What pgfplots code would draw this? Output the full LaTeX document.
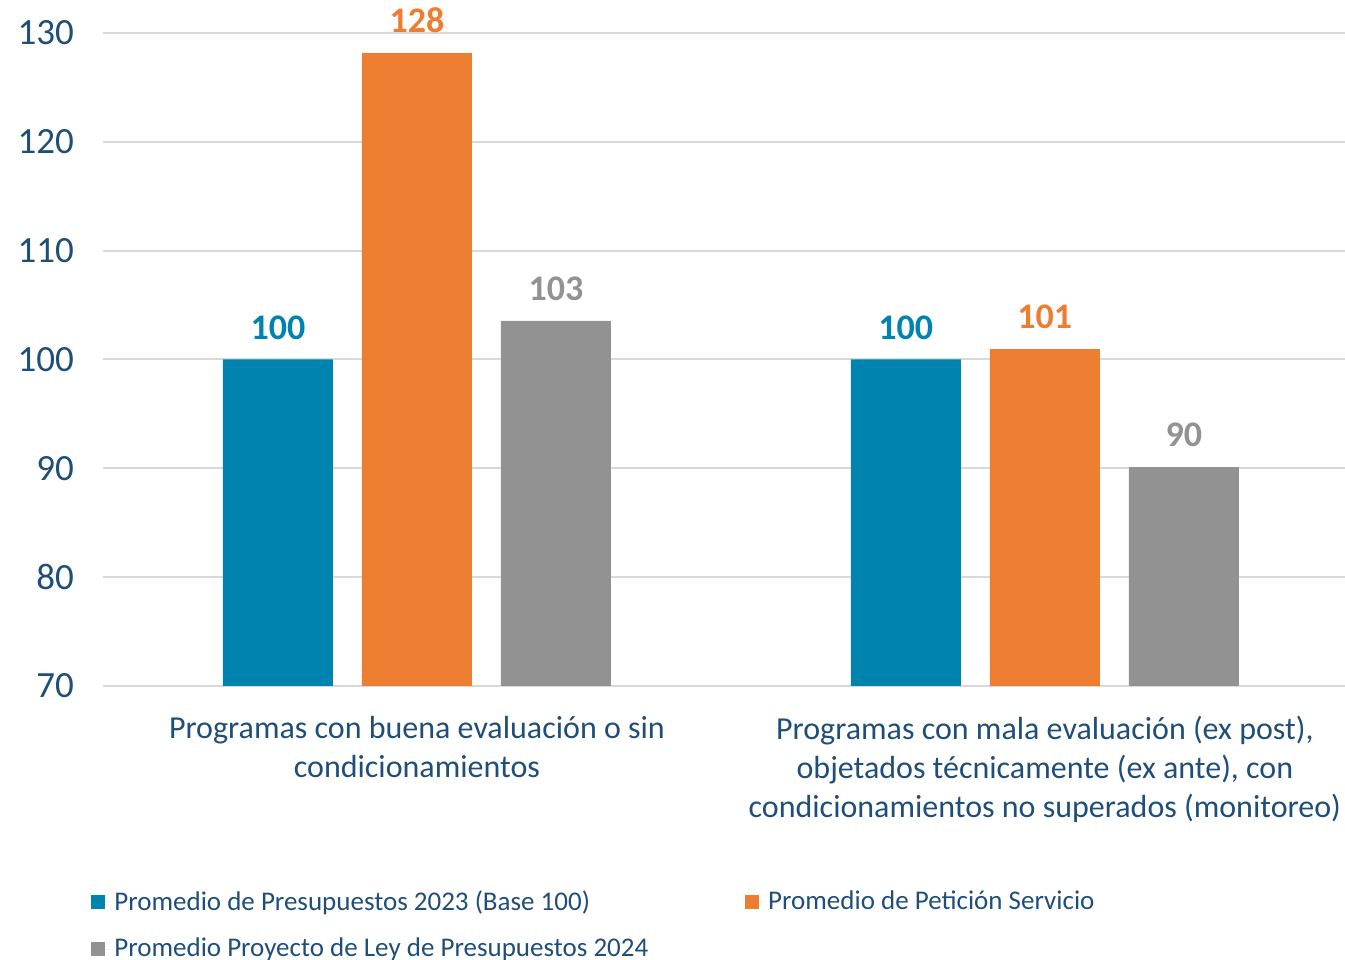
\documentclass[border=0pt]{standalone}
\usepackage{pgfplots}
\pgfplotsset{compat=1.18}
\usepackage{fontspec}
\setmainfont{Carlito}
\definecolor{cblue}{HTML}{0083AF}
\definecolor{corange}{HTML}{ED7D31}
\definecolor{cgray}{HTML}{929292}
\definecolor{ctext}{HTML}{1F4E79}
\definecolor{cgrid}{HTML}{D9D9D9}
\begin{document}
\begin{tikzpicture}
\begin{axis}[
  scale only axis, width=621pt, height=326.5pt,
  xmin=-0.5, xmax=1.478, ymin=70, ymax=130,
  ybar=14.5pt, bar width=55pt,
  clip=false,
  xtick={0,1},
  xticklabels={{Programas con buena evaluación o sin\\condicionamientos},{Programas con mala evaluación (ex post),\\objetados técnicamente (ex ante), con\\condicionamientos no superados (monitoreo)}},
  xticklabel style={align=center, font=\fontsize{16}{19.5}\selectfont, text=ctext, yshift=-11.5pt},
  ytick={70,80,...,130},
  yticklabel style={font=\fontsize{18.5}{21}\selectfont, text=ctext, xshift=-11pt},
  /pgf/number format/assume math mode=true,
  ymajorgrids, grid style={cgrid, line width=1pt},
  axis line style={draw=none}, major tick length=0pt,
  point meta=explicit symbolic,
  nodes near coords,
  nodes near coords style={font=\bfseries\fontsize{18}{21}\selectfont, yshift=6.5pt},
  legend columns=2,
  legend cell align=left,
  legend style={draw=none, fill=none, inner sep=0pt,
    at={(axis description cs:0,0)}, anchor=north west, xshift=-6pt, yshift=-100pt,
    font=\fontsize{13.5}{16}\selectfont, text=ctext,
    /tikz/every even column/.append style={column sep=46.5pt},
    row sep=8.5pt},
]
\addplot[fill=cblue, draw=none, every node near coord/.append style={text=cblue},
  legend image code/.code={\fill[cblue] (0pt,-3.5pt) rectangle (7pt,3.5pt); \path (0pt,0pt) -- (9.5pt,0pt);}]
  coordinates {(0,100)[100] (1,100)[100]};
\addlegendentry{Promedio de Presupuestos 2023 (Base 100)}
\addplot[fill=corange, draw=none, every node near coord/.append style={text=corange},
  legend image code/.code={\fill[corange] (0pt,-3.5pt) rectangle (7pt,3.5pt); \path (0pt,0pt) -- (9.5pt,0pt);}]
  coordinates {(0,128.16)[128] (1,100.96)[101]};
\addlegendentry{Promedio de Petición Servicio}
\addplot[fill=cgray, draw=none, every node near coord/.append style={text=cgray},
  legend image code/.code={\fill[cgray] (0pt,-3.5pt) rectangle (7pt,3.5pt); \path (0pt,0pt) -- (9.5pt,0pt);}]
  coordinates {(0,103.54)[103] (1,90.12)[90]};
\addlegendentry{Promedio Proyecto de Ley de Presupuestos 2024}
\coordinate (bbll) at ([xshift=-51.5pt,yshift=-137pt]rel axis cs:0,0);
\coordinate (bbur) at ([yshift=16.5pt]rel axis cs:1,1);
\end{axis}
\pgfresetboundingbox
\path[use as bounding box] (bbll) rectangle (bbur);
\end{tikzpicture}
\end{document}
